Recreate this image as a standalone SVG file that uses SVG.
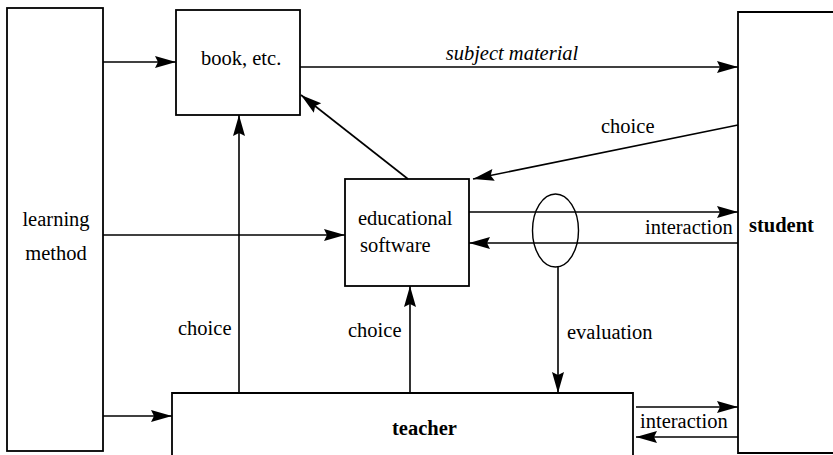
<svg xmlns="http://www.w3.org/2000/svg" width="833" height="455" viewBox="0 0 833 455">
  <style>
    .box { fill: none; stroke: #000; stroke-width: 1.8; }
    .arrow { fill: none; stroke: #000; stroke-width: 1.6; marker-end: url(#head); }
    .thin { fill: none; stroke: #000; stroke-width: 1.4; }
    .it { font-style: italic; }
    .b { font-weight: bold; }
    .mid { text-anchor: middle; }
  </style>
  <defs>
    <marker id="head" viewBox="-22 -7 23 14" refX="0" refY="0" markerWidth="23" markerHeight="14" markerUnits="userSpaceOnUse" orient="auto">
      <path d="M0,0 L-21,-6 L-18,0 L-21,6 Z" fill="#000"/>
    </marker>
  </defs>

  <rect width="833" height="455" fill="#fff"/>

  <g font-family="Liberation Serif, DejaVu Serif, serif" font-size="20.5" fill="#000">
  <g id="learning-method">
    <rect class="box" x="7" y="8" width="96" height="443"/>
    <text class="mid" x="56" y="226">learning</text>
    <text class="mid" x="56" y="260">method</text>
  </g>

  <g id="book">
    <rect class="box" x="176" y="10" width="124" height="105"/>
    <text x="201" y="65">book, etc.</text>
  </g>

  <g id="educational-software">
    <rect class="box" x="345" y="179" width="124" height="107"/>
    <text x="358" y="225">educational</text>
    <text x="360" y="252">software</text>
  </g>

  <g id="student">
    <path class="box" d="M840,12 H738 V453 H840"/>
    <text class="b" x="749" y="232">student</text>
  </g>

  <g id="teacher">
    <path class="box" d="M172,460 V393 H633 V460"/>
    <text class="b" x="392" y="435">teacher</text>
  </g>

  <g id="evaluation-loop">
    <ellipse class="thin" cx="555.5" cy="230.5" rx="23" ry="36.5"/>
  </g>

  <g id="connectors">
    <!-- learning method outputs -->
    <line class="arrow" x1="103" y1="62" x2="176" y2="62"/>
    <line class="arrow" x1="103" y1="235" x2="345" y2="235"/>
    <line class="arrow" x1="103" y1="416" x2="172" y2="416"/>

    <!-- subject material -->
    <line class="arrow" x1="300" y1="67" x2="738" y2="67"/>
    <text class="it mid" x="512" y="60">subject material</text>

    <!-- student choice -->
    <line class="arrow" x1="738" y1="125" x2="473" y2="179"/>
    <text x="601" y="133">choice</text>

    <!-- software to book -->
    <line class="arrow" x1="408" y1="179" x2="301" y2="95"/>

    <!-- software / student interaction -->
    <line class="arrow" x1="469" y1="212" x2="738" y2="212"/>
    <line class="arrow" x1="738" y1="243" x2="469" y2="243"/>
    <text x="645" y="234">interaction</text>

    <!-- teacher choices -->
    <line class="arrow" x1="239" y1="393" x2="239" y2="115"/>
    <text x="178" y="335">choice</text>
    <line class="arrow" x1="410" y1="393" x2="410" y2="286"/>
    <text x="348" y="337">choice</text>

    <!-- evaluation -->
    <line class="arrow" x1="558" y1="267" x2="558" y2="393"/>
    <text x="567" y="339">evaluation</text>

    <!-- teacher / student interaction -->
    <line class="arrow" x1="636" y1="407" x2="738" y2="407"/>
    <line class="arrow" x1="738" y1="437" x2="636" y2="437"/>
    <text x="640" y="428">interaction</text>
  </g>
  </g>
</svg>
